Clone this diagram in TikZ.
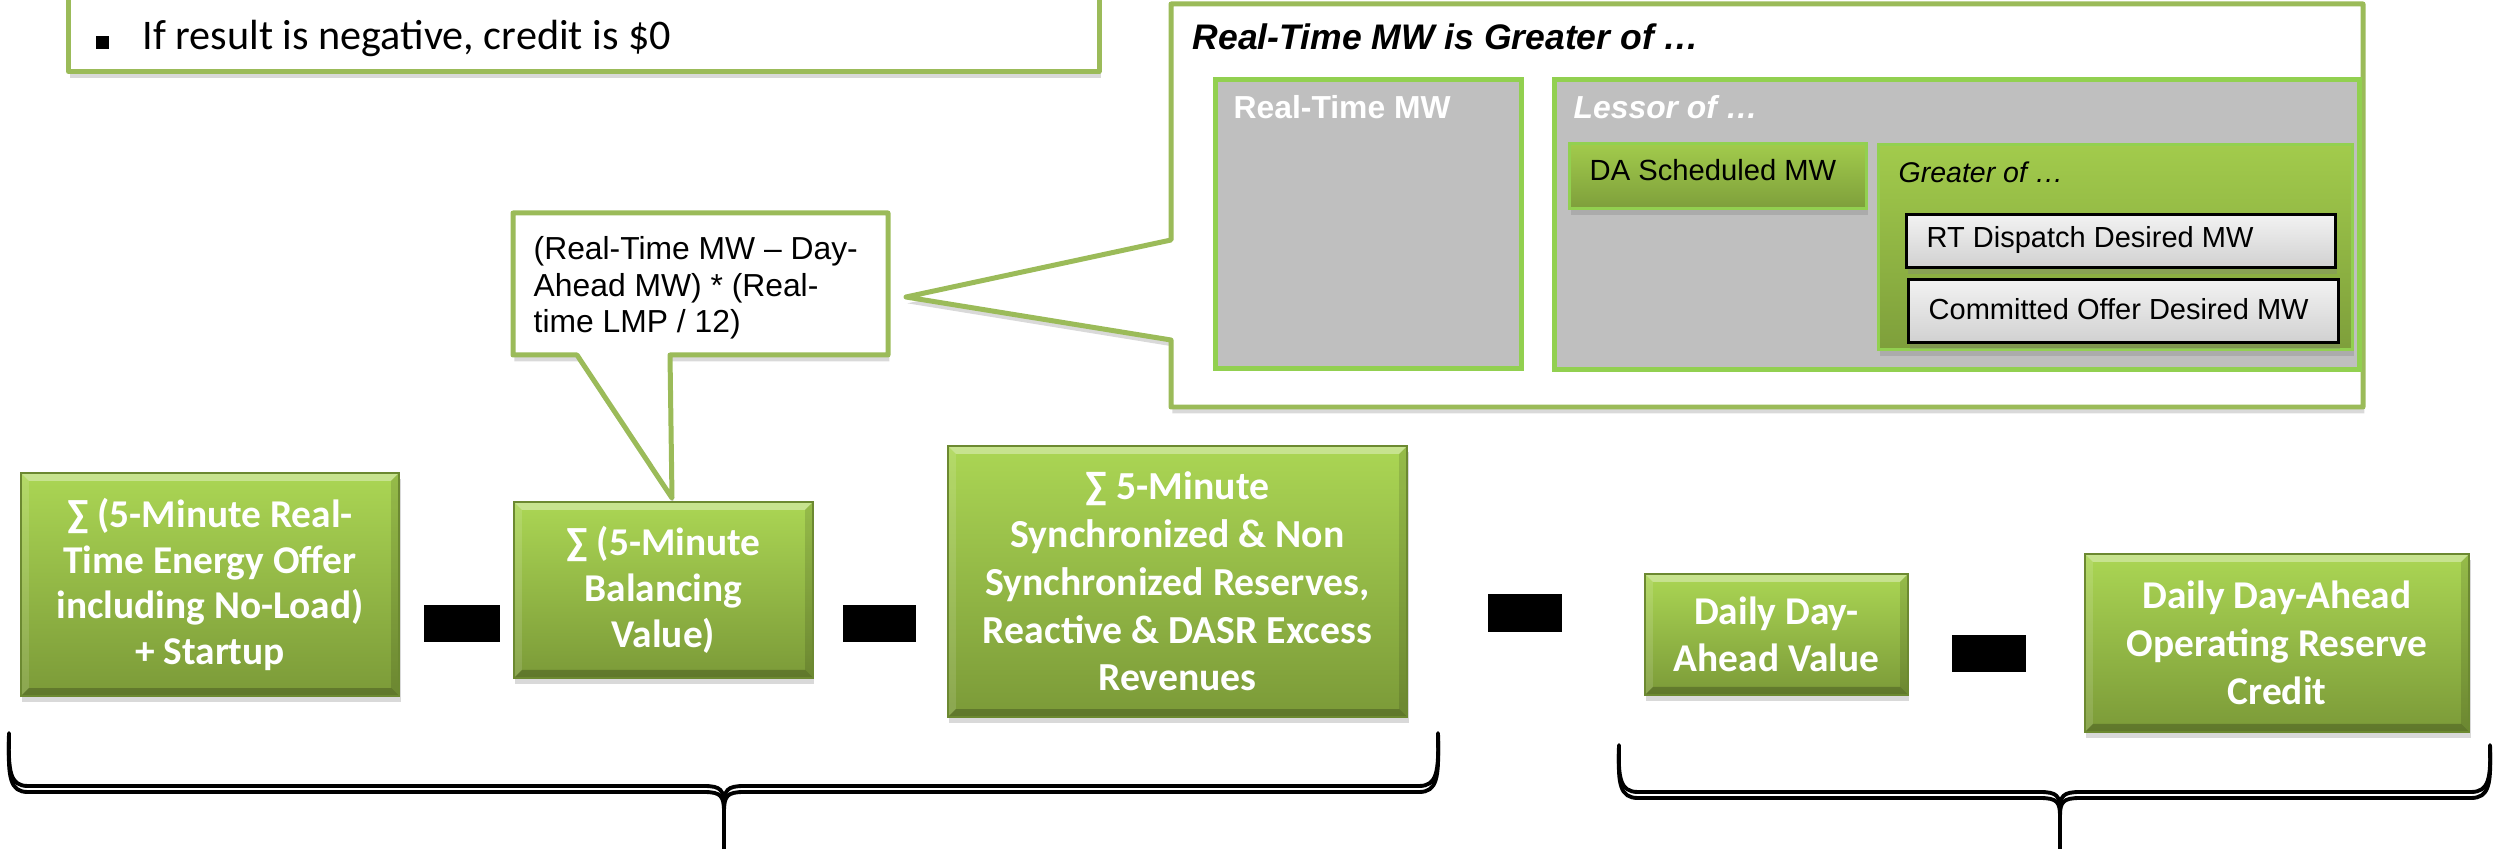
\documentclass[tikz,border=0pt]{standalone}
\usepackage{fontspec}
\setmainfont{Liberation Sans}
\newfontfamily\calib{Carlito}
\usetikzlibrary{shadows}
\definecolor{calloutgreen}{HTML}{9BBB59}
\definecolor{lgreen}{HTML}{92D050}
\definecolor{gtop}{HTML}{ABD654}
\definecolor{gbot}{HTML}{7B9A38}
\definecolor{gedge}{HTML}{6C8931}
\definecolor{grayfill}{HTML}{BFBFBF}
\definecolor{ptop}{HTML}{A2CB4C}
\definecolor{pbot}{HTML}{7E9F3B}
\begin{document}
\begin{tikzpicture}[x=0.01cm,y=-0.01cm,
  sh/.style={drop shadow={shadow xshift=0.4pt,shadow yshift=-1.8pt,opacity=0.3}},
  bevel/.style={path picture={
    \fill[white,opacity=0.35] (path picture bounding box.north west) -- (path picture bounding box.north east) -- ([xshift=-0.08cm,yshift=-0.08cm]path picture bounding box.north east) -- ([xshift=0.08cm,yshift=-0.08cm]path picture bounding box.north west) -- cycle;
    \fill[black,opacity=0.22] (path picture bounding box.south west) -- (path picture bounding box.south east) -- ([xshift=-0.08cm,yshift=0.08cm]path picture bounding box.south east) -- ([xshift=0.08cm,yshift=0.08cm]path picture bounding box.south west) -- cycle;
    \fill[white,opacity=0.12] (path picture bounding box.north west) -- ([xshift=0.08cm,yshift=-0.08cm]path picture bounding box.north west) -- ([xshift=0.08cm,yshift=0.08cm]path picture bounding box.south west) -- (path picture bounding box.south west) -- cycle;
    \fill[black,opacity=0.12] (path picture bounding box.north east) -- ([xshift=-0.08cm,yshift=-0.08cm]path picture bounding box.north east) -- ([xshift=-0.08cm,yshift=0.08cm]path picture bounding box.south east) -- (path picture bounding box.south east) -- cycle;
  }},
  greenbox/.style={rectangle, inner sep=0pt, anchor=north west, top color=gtop, bottom color=gbot, draw=gedge, line width=0.5pt, text=white, align=center, sh, bevel},
  minusbox/.style={rectangle, inner sep=0pt, anchor=north west, fill=black},
  graybox/.style={rectangle, inner sep=0pt, anchor=north west, fill=grayfill, draw=lgreen, line width=1.42pt},
  greenpanel/.style={rectangle, inner sep=0pt, anchor=north west, top color=ptop, bottom color=pbot, draw=lgreen, line width=0.9pt, sh},
  whitebox/.style={rectangle, inner sep=0pt, anchor=north west, top color=white!95!black, bottom color=black!18, draw=black, line width=0.8pt, sh},
  calloutline/.style={draw=calloutgreen, line width=1.42pt, fill=white, line join=round, sh},
  lbl/.style={inner sep=0pt, anchor=west},
  bracestroke/.style={line width=1.1pt, line join=round, line cap=round}
]
\useasboundingbox (0,0) rectangle (2496,849);

% top-left note box
\node[calloutline, rectangle, inner sep=0pt, anchor=south west, minimum width=10.30cm, minimum height=1.10cm] (note) at (66,74) {};
\node[inner sep=0pt, fill=black, minimum size=0.13cm, anchor=south west] (bullet) at (95,50) {};
\node[inner sep=0pt, anchor=base west, font=\calib\fontsize{12}{14}\selectfont] (notetext) at (142,50) {If result is negative, credit is \$0};

% big callout
\path[calloutline] (1171,4) -- (2363,4) -- (2363,407) -- (1171,407) -- (1171,340) -- (906,297) -- (1171,240) -- cycle;
\coordinate (bigtip) at (906,297);
\node[lbl, font=\bfseries\itshape\fontsize{10.1}{12}\selectfont] (title) at (1192,37) {Real-Time MW is Greater of \ldots};
\node[graybox, minimum width=3.06cm, minimum height=2.89cm] (rtmw) at (1213,77) {};
\node[graybox, minimum width=8.05cm, minimum height=2.90cm] (lessor) at (1552,77) {};
\node[lbl, text=white, font=\bfseries\fontsize{9.05}{11}\selectfont] (rtmwtext) at (1233,107) {Real-Time MW};
\node[lbl, text=white, font=\bfseries\itshape\fontsize{9.05}{11}\selectfont] (lessortext) at (1573,107) {Lessor of \ldots};
\node[greenpanel, minimum width=2.97cm, minimum height=0.65cm] (dasched) at (1568,142) {};
\node[lbl, font=\fontsize{8.3}{10}\selectfont] (dastext) at (1589,170) {DA Scheduled MW};
\node[greenpanel, minimum width=4.74cm, minimum height=2.05cm] (greater) at (1877,143) {};
\node[lbl, font=\itshape\fontsize{8.1}{10}\selectfont] (greatertext) at (1898,172) {Greater of \ldots};
\node[whitebox, minimum width=4.29cm, minimum height=0.53cm] (rtdisp) at (1905,213) {};
\node[lbl, font=\fontsize{8.25}{10}\selectfont] (rtdisptext) at (1926,240) {RT Dispatch Desired MW};
\node[whitebox, minimum width=4.30cm, minimum height=0.63cm] (commit) at (1907,278) {};
\node[lbl, font=\fontsize{8.25}{10}\selectfont] (committext) at (1928,309) {Committed Offer Desired MW};

% formula callout
\path[calloutline] (513,213) -- (888,213) -- (888,355) -- (670,355) -- (672,498) -- (577,355) -- (513,355) -- cycle;
\node[lbl, align=left, font=\fontsize{9.05}{10.4}\selectfont] (formula) at (533,288) {(Real-Time MW -- Day-\\Ahead MW) * (Real-\\time LMP / 12)};

% green boxes
\node[greenbox, minimum width=3.78cm, minimum height=2.23cm, font=\calib\bfseries\fontsize{11.2}{13}\selectfont] (b1) at (20,472) {∑ (5-Minute Real-\\Time Energy Offer\\including No-Load)\\+ Startup};
\node[minusbox, minimum width=0.76cm, minimum height=0.37cm] (m1) at (423,604) {};
\node[greenbox, minimum width=2.99cm, minimum height=1.76cm, font=\calib\bfseries\fontsize{11.2}{13.2}\selectfont] (b2) at (513,501) {∑ (5-Minute\\Balancing\\Value)};
\node[minusbox, minimum width=0.73cm, minimum height=0.37cm] (m2) at (842,604) {};
\node[greenbox, minimum width=4.59cm, minimum height=2.71cm, font=\calib\bfseries\fontsize{11.3}{13.6}\selectfont] (b3) at (947,445) {∑ 5-Minute\\Synchronized \& Non\\Synchronized Reserves,\\Reactive \& DASR Excess\\Revenues};
\node[minusbox, minimum width=0.74cm, minimum height=0.38cm] (m3) at (1487,593) {};
\node[greenbox, minimum width=2.63cm, minimum height=1.21cm, font=\calib\bfseries\fontsize{11.2}{13.4}\selectfont] (b4) at (1644,573) {Daily Day-\\Ahead Value};
\node[minusbox, minimum width=0.74cm, minimum height=0.37cm] (m4) at (1951,634) {};
\node[greenbox, minimum width=3.84cm, minimum height=1.78cm, font=\calib\bfseries\fontsize{11.2}{13.6}\selectfont] (b5) at (2084,553) {Daily Day-Ahead\\Operating Reserve\\Credit};

% braces
\foreach \s in {0,-0.06} {
  \draw[bracestroke, yshift=\s cm] (9,733) .. controls (8,772) and (10,786) .. (28,786) -- (704,786) .. controls (721,786) and (724,790) .. (724,806) -- (724,846);
  \draw[bracestroke, yshift=\s cm] (724,806) .. controls (724,790) and (727,786) .. (744,786) -- (1419,786) .. controls (1437,786) and (1439,772) .. (1438,733);
  \draw[bracestroke, yshift=\s cm] (1619,745) .. controls (1618,778) and (1620,792) .. (1638,792) -- (2040,792) .. controls (2057,792) and (2060,796) .. (2060,810) -- (2060,843);
  \draw[bracestroke, yshift=\s cm] (2060,810) .. controls (2060,796) and (2063,792) .. (2080,792) -- (2471,792) .. controls (2489,792) and (2491,778) .. (2490,745);
}
\end{tikzpicture}
\end{document}
